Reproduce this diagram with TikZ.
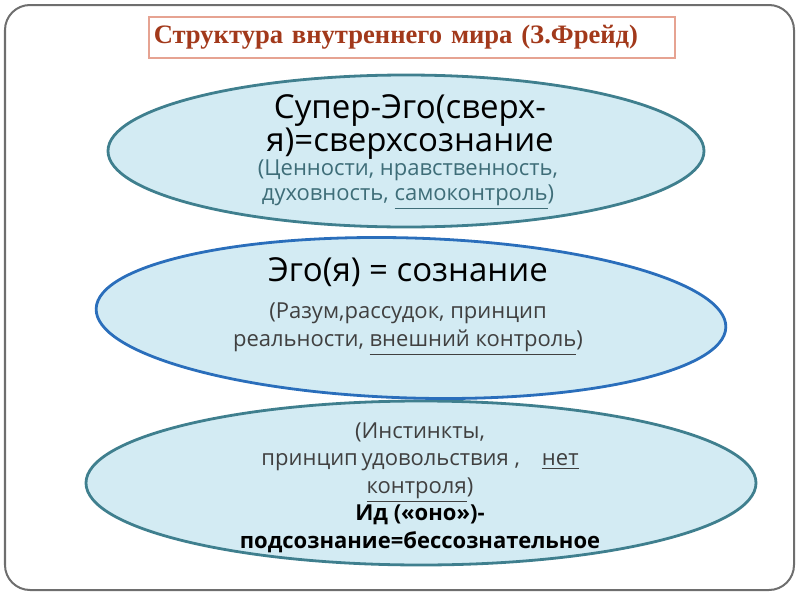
\documentclass[tikz,border=0pt]{standalone}
\usepackage{fontspec}
\setmainfont{Liberation Serif}
\newfontfamily\slidesans{Open Sans}
\usetikzlibrary{shapes.geometric,positioning}

\definecolor{framegray}{HTML}{6E6E6E}
\definecolor{titleframe}{HTML}{E6A392}
\definecolor{titletext}{HTML}{A2391B}
\definecolor{layerfill}{HTML}{D3EBF3}
\definecolor{tealline}{HTML}{3F7F8E}
\definecolor{blueline}{HTML}{2A6EBB}
\definecolor{tealtext}{HTML}{3E6D78}
\definecolor{graytext}{HTML}{404040}

\begin{document}
\begin{tikzpicture}[x=0.5pt, y=-0.5pt, line cap=round,
    layer/.style={ellipse, fill=layerfill, line width=1.4pt, inner sep=0pt},
    head/.style={font=\slidesans\fontsize{16.5}{16.5}\selectfont, align=center, anchor=base},
    note/.style={font=\slidesans\fontsize{11}{14}\selectfont, align=center, anchor=base},
    titlebox/.style={draw=titleframe, line width=0.75pt, text=titletext,
      font=\bfseries\fontsize{13.3}{16}\selectfont, text width=258pt, align=left,
      inner xsep=2.5pt, minimum height=20.5pt}]
  \useasboundingbox (0,0) rectangle (800,600);

  % Frame
  \draw[framegray, line width=1pt, rounded corners=12.5pt] (5,5) rectangle (794,590);

  % Title
  \node[titlebox, anchor=north west] (title) at (148,16) {Структура внутреннего мира (З.Фрейд)};

  % Layers (bottom first)
  \node[layer, draw=tealline, minimum width=335pt, minimum height=82pt] (id) at (421,483) {};
  \node[layer, draw=blueline, minimum width=315pt, minimum height=80pt, rotate=-1.7] (ego) at (411,318) {};
  \node[layer, draw=tealline, minimum width=298pt, minimum height=76pt] (superego) at (406,151) {};

  % Super-ego (anchor = baseline of the last line)
  \node[head] (superHead) at (410,151) {Супер-Эго(сверх-\\я)=сверхсознание};
  \node[note, text=tealtext, font=\slidesans\fontsize{11}{12.5}\selectfont] (superNote) at (408,200)
    {(Ценности, нравственность,\\духовность, \underline{самоконтроль})};

  % Ego
  \node[head] (egoHead) at (408,281) {Эго(я) = сознание};
  \node[note, text=graytext] (egoNote) at (408,346) {(Разум,рассудок, принцип\\реальности, \underline{внешний контроль})};

  % Id
  \node[note, text=graytext, font=\slidesans\fontsize{11}{13.6}\selectfont] (idNote) at (420,493)
    {(Инстинкты,\\принцип\,удовольствия ,\quad \underline{нет}\\\underline{контроля})};
  \node[note, font=\slidesans\bfseries\fontsize{11}{13.6}\selectfont] (idHead) at (420,548)
    {Ид («оно»)-\\подсознание=бессознательное};
\end{tikzpicture}
\end{document}
